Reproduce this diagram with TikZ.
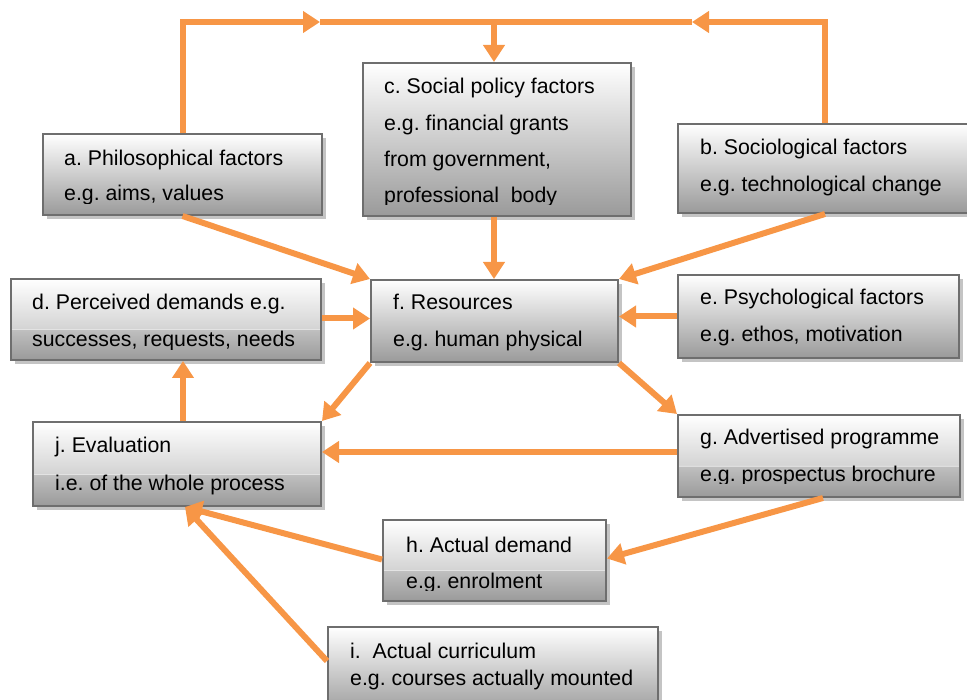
\documentclass[tikz,border=0pt]{standalone}
\usepackage{fontspec}
\setmainfont{Liberation Sans}
\usetikzlibrary{arrows.meta,shadows,fit}
\frenchspacing

\definecolor{flow}{HTML}{F79646}
\definecolor{boxedge}{HTML}{6E6E6E}
\definecolor{boxlo}{HTML}{9A9A9A}
\definecolor{boxmidhi}{HTML}{D4D4D4}
\definecolor{boxmidlo}{HTML}{BFBFBF}
\definecolor{boxgleam}{HTML}{E8E8E8}
\definecolor{boxshade}{HTML}{C4C4C4}

% box fills: a plain white-to-grey fade, and one with a glossy break below the middle
\pgfdeclareverticalshading{plainbox}{100bp}{color(0bp)=(boxlo); color(25bp)=(boxlo); color(75bp)=(white); color(100bp)=(white)}
\pgfdeclareverticalshading{glossbox}{100bp}{color(0bp)=(boxlo); color(25bp)=(boxlo); color(43.6bp)=(boxmidlo); color(44bp)=(boxgleam); color(44.6bp)=(boxmidhi); color(75bp)=(white); color(100bp)=(white)}

\tikzset{
  box/.style={draw=boxedge, line width=2pt, shading=plainbox, inner sep=0pt,
    drop shadow={shadow xshift=4pt, shadow yshift=-4pt, fill=boxshade, opacity=1}},
  gloss/.style={shading=glossbox},
  lbl/.style={anchor=base west, inner sep=0pt, text=black},
  conn/.style={draw=flow, line width=6pt, line join=miter},
  tip/.style={-{Triangle[length=17pt,width=21pt]}},
}

\begin{document}
\begin{tikzpicture}[x=1pt, y=-1pt, font=\fontsize{21.3pt}{37pt}\selectfont]
\useasboundingbox (0,0) rectangle (967,700);

% boxes
\node[box, fit={(43,134) (322,215)}] (a) {};
\node[box, fit={(363,63) (631,216)}] (c) {};
\node[box, fit={(678,124) (995,213)}] (b) {};
\node[box, gloss, fit={(11,279) (321,360)}] (d) {};
\node[box, fit={(371,280) (618,362)}] (f) {};
\node[box, fit={(678,275) (959,358)}] (e) {};
\node[box, gloss, fit={(33,422) (321,506)}] (j) {};
\node[box, gloss, fit={(678,415) (960,497)}] (g) {};
\node[box, gloss, fit={(383,520) (606,601)}] (h) {};
\node[box, fit={(328,627) (658,715)}] (i) {};

% box texts
\node[lbl] (a1) at (64,166) {a. Philosophical factors};
\begin{scope}\clip (50,180) rectangle (315,203.5);
\node[lbl] (a2) at (64,201) {e.g. aims, values};
\end{scope}

\node[lbl] (c1) at (384,94) {c. Social policy factors};
\node[lbl] (c2) at (384,130.5) {e.g. financial grants};
\node[lbl] (c3) at (384,167) {from government,};
\begin{scope}\clip (370,180) rectangle (625,204.5);
\node[lbl] (c4) at (384,203) {professional\ \ body};
\end{scope}

\node[lbl] (b1) at (700,155) {b. Sociological factors};
\node[lbl] (b2) at (700,192) {e.g. technological change};

\node[lbl] (d1) at (32,310) {d. Perceived demands e.g.};
\begin{scope}\clip (15,325) rectangle (318,349.5);
\node[lbl] (d2) at (32,347) {successes, requests, needs};
\end{scope}

\node[lbl] (f1) at (393,310) {f. Resources};
\node[lbl] (f2) at (393,347) {e.g. human physical};

\node[lbl] (e1) at (700,305) {e. Psychological factors};
\node[lbl] (e2) at (700,342) {e.g. ethos, motivation};

\node[lbl] (j1) at (55,453) {j. Evaluation};
\node[lbl] (j2) at (55,490) {i.e. of the whole process};

\node[lbl] (g1) at (700,445) {g. Advertised programme};
\begin{scope}\clip (685,460) rectangle (957,484);
\node[lbl] (g2) at (700,482) {e.g. prospectus brochure};
\end{scope}

\node[lbl] (h1) at (406,552) {h. Actual demand};
\begin{scope}\clip (390,566) rectangle (603,590);
\node[lbl] (h2) at (406,588) {e.g. enrolment};
\end{scope}

\node[lbl] (i1) at (350,658) {i.\ \ Actual curriculum};
\node[lbl] (i2) at (350,685) {e.g. courses actually mounted};

% top feedback loop
\coordinate (topR) at (825,22);
\coordinate (topM) at (494,22);
\coordinate (mL) at (320,22);
\coordinate (mR) at (692,22);
\draw[conn, tip] (a.north) |- (mL);
\draw[conn] (mL) -- (topM);
\draw[conn, tip] (b.north -| topR) |- (mR);
\draw[conn] (mR) -- (topM);
\draw[conn, tip] (topM) -- (topM |- c.north);

% influences on resources
\draw[conn, tip] (a.south) -- (f.north west);
\draw[conn, tip] (topM |- c.south) -- (topM |- f.north);
\draw[conn, tip] (b.south -| topR) -- (f.north east);
\draw[conn, tip] ([yshift=1pt]d.east) -- ([yshift=1pt]d.east -| f.west);
\draw[conn, tip] (e.west) -- (e.west -| f.east);

% outputs of resources
\draw[conn, tip] (f.south west) -- (j.north east);
\draw[conn, tip] (f.south east) -- (g.north west);

% lower cycle
\draw[conn, tip] ([yshift=4pt]g.west) -- ([yshift=4pt]g.west -| j.east);
\draw[conn, tip] ([xshift=6pt]j.north) -- ([xshift=6pt]j.north |- d.south);
\draw[conn, tip] ([xshift=4pt]g.south) -- ([yshift=2pt]h.east);
\coordinate (jIn) at ([xshift=8pt]j.south);
\draw[conn, tip] ([yshift=1pt]h.west) -- (jIn);
\draw[conn, tip] ([yshift=-35pt]i.north west) -- (jIn);
\end{tikzpicture}
\end{document}
